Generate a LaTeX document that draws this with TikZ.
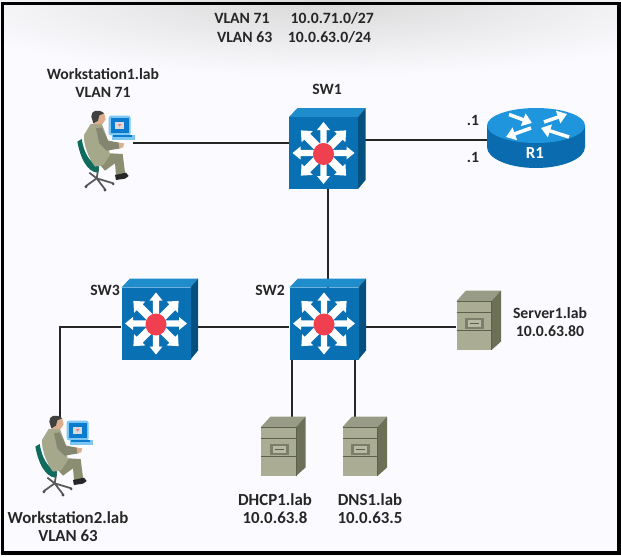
\documentclass[tikz,border=0pt]{standalone}
\usepackage{fontspec}
\setmainfont{Carlito}
\usetikzlibrary{arrows.meta, calc, backgrounds}

\definecolor{paper}{HTML}{FBFBFF}
\definecolor{swfront}{HTML}{0A70B4}
\definecolor{swtop}{HTML}{1F8CCB}
\definecolor{swside}{HTML}{05507F}
\definecolor{swred}{HTML}{F0404F}
\definecolor{rttop}{HTML}{1E95DC}
\definecolor{rtbody}{HTML}{0A6CAE}
\definecolor{srvfront}{HTML}{AAAD93}
\definecolor{srvtop}{HTML}{989B85}
\definecolor{srvside}{HTML}{6C7057}
\definecolor{srvline}{HTML}{5C5F4B}
\definecolor{jacket}{HTML}{A6A88C}
\definecolor{trousers}{HTML}{8C8E72}
\definecolor{chair}{HTML}{0F6B5C}
\definecolor{skin}{HTML}{DDAE8E}
\definecolor{screen}{HTML}{0B7BD0}
\definecolor{glow}{HTML}{7CC6F4}

\tikzset{
  netlabel/.style={font=\bfseries\fontsize{13.4}{15.4}\selectfont, align=center, text=black!85, inner sep=0pt},
  netlarge/.style={netlabel, font=\bfseries\fontsize{14.4}{15.4}\selectfont},
  netlink/.style={draw=black!85, line width=1.7pt},
  swbox/.style={inner sep=0pt, minimum width=2.07cm, minimum height=2.16cm},
  rtbox/.style={inner sep=0pt, minimum width=2.94cm, minimum height=1.26cm},
  srvbox/.style={inner sep=0pt, minimum width=1.05cm, minimum height=1.47cm},
  hostbox/.style={inner sep=0pt, minimum width=1.68cm, minimum height=1.68cm},
  %% ─── L3 switch ───────────────────────────────
  l3switch/.pic={
    \fill[swtop] (-34.5,-36) -- (-26,-45) -- (42,-45) -- (34.5,-36) -- cycle;
    \fill[swside] (34.5,-36) -- (42,-45) -- (42,27) -- (34.5,36) -- cycle;
    \fill[swfront] (-34.5,-36) rectangle (34.5,36);
    \draw[black!85, line width=1.4pt] (0,1) -- (45:24) (0,1) -- (225:24);
    \foreach \ang in {0,90,180,270}
      \fill[white, rotate=\ang] (5,-3.2) -- (23,-3.2) -- (23,-6.5) -- (31,0) -- (23,6.5) -- (23,3.2) -- (5,3.2) -- cycle;
    \foreach \ang in {45,135,225,315}
      \fill[white, rotate=\ang] (5,-4.2) -- (23,-4.2) -- (23,-8) -- (32,0) -- (23,8) -- (23,4.2) -- (5,4.2) -- cycle;
    \fill[swred] (0,1) ellipse (10.5 and 11);
  },
  %% ─── router ──────────────────────────────────
  rtdisc/.pic={
    \fill[rtbody] (-49,-20.5) -- (-49,1) arc[start angle=180, end angle=0, x radius=49, y radius=21] -- (49,-20.5) -- cycle;
    \fill[rttop] (0,-20.5) ellipse (49 and 17.5);
    \begin{scope}[white, line width=3pt, -{Triangle[length=8pt, width=11pt]}]
      \draw (-27,-31.5) -- (-4,-23);
      \draw (8,-24) -- (31,-32);
      \draw (-5,-18) -- (-30,-9);
      \draw (33,-9) -- (5,-18);
    \end{scope}
  },
  %% ─── server tower ────────────────────────────
  srvtower/.pic={
    \fill[srvtop] (-17.5,-24.5) -- (-8,-35) -- (27,-35) -- (17.5,-24.5) -- cycle;
    \fill[srvside] (17.5,-24.5) -- (27,-35) -- (27,16) -- (17.5,24.5) -- cycle;
    \fill[srvfront] (-17.5,-24.5) rectangle (17.5,24.5);
    \draw[srvline, line width=.6pt] (-17.5,-13) -- (17.5,-13) (-17.5,5) -- (17.5,5)
      (-17.5,-24.5) -- (17.5,-24.5) -- (17.5,24.5);
    \fill[srvline!60!srvfront] (-9,-8) rectangle (10,3);
    \fill[srvfront!85!white] (-6,-6) rectangle (7,1);
    \draw[srvline, line width=.5pt] (-4,-2.5) -- (5,-2.5);
  },
  %% ─── operator at a desk ──────────────────────
  deskuser/.pic={
    \begin{scope}[scale=1/3, shift={(-135,-129)}]
      % chair
      \draw[black!65, line width=1.5pt] (115,205) -- (110,235) (110,235) -- (78,258) (110,235) -- (135,268)
        (110,235) -- (88,218) (110,235) -- (160,250);
      \fill[black!70] (78,260) circle (5) (135,270) circle (5) (160,252) circle (4);
      \fill[chair] (52,125) -- (65,117) .. controls (72,160) and (90,190) .. (118,200)
        -- (112,218) .. controls (80,215) and (60,170) .. (52,125) -- cycle;
      % legs and shoe
      \fill[trousers] (120,195) -- (150,160) -- (188,162) -- (196,225) -- (168,225) -- (165,190) -- (135,212) -- cycle;
      \fill[black!85] (165,225) -- (198,218) -- (206,228) -- (195,236) -- (168,240) -- cycle;
      % jacket and arm
      \fill[jacket] (92,72) -- (125,70) -- (140,110) -- (150,165) -- (130,195) -- (105,200)
        .. controls (85,175) and (70,130) .. (72,105) -- cycle;
      \fill[jacket!80!black] (108,85) -- (125,82) -- (145,122) -- (178,128) -- (182,145) -- (140,152) -- (118,130) -- cycle;
      \fill[skin] (176,128) -- (192,130) -- (190,142) -- (178,145) -- cycle;
      % head and hair
      \fill[skin] (100,40) -- (132,38) -- (137,58) -- (128,72) -- (102,72) -- cycle;
      \fill[black!75] (94,50) .. controls (92,32) and (115,24) .. (132,40) -- (118,46) -- (114,62) -- (100,70) -- cycle;
      % monitor and keyboard
      \fill[glow, rounded corners=2pt] (146,47) rectangle (212,106);
      \fill[screen] (152,54) rectangle (206,100);
      \fill[black!15!white] (165,66) rectangle (192,86);
      \fill[swred!70!white] (174,72) -- (184,72) -- (179,80) -- cycle;
      \fill[glow] (155,106) rectangle (226,120);
      \fill[screen] (160,106) rectangle (215,112);
    \end{scope}
  },
}

\begin{document}
\begin{tikzpicture}[x=0.03cm, y=-0.03cm]

  %% ─── page and frame ──────────────────────────
  \useasboundingbox (0,0) rectangle (621,556);
  \fill[paper] (0,0) rectangle (621,556);
  \begin{scope}
    \clip (0,0) rectangle (621,556);
    \shade[inner color=black!15, outer color=paper] (325,0) ellipse (400 and 76);
  \end{scope}
  \draw[black, line width=3.4pt] (2.5,3.5) rectangle (618.5,553);

  %% ─── device placeholders ─────────────────────
  \node[swbox] (SW1) at (323.5,153) {};
  \node[swbox] (SW2) at (324,323.5) {};
  \node[swbox] (SW3) at (156,323.5) {};
  \node[rtbox] (R1) at (536,146) {};
  \node[srvbox] (Server1) at (474,325.5) {};
  \node[srvbox] (DHCP1) at (278.5,451.5) {};
  \node[srvbox] (DNS1) at (360,451.5) {};
  \node[hostbox] (WS1) at (105,143) {};
  \node[hostbox] (WS2) at (63,448) {};
  \coordinate (WS2top) at (60,420);

  %% ─── links ───────────────────────────────────
  \draw[netlink] (WS1.east) -- (WS1 -| SW1.west);
  \draw[netlink] ([yshift=0.4cm]SW1.east) -- ([yshift=0.4cm]SW1.east -| R1.west);
  \draw[netlink] ([xshift=0.135cm]SW1.south) -- ([xshift=0.135cm,yshift=-0.3cm]SW1.south |- SW2.north);
  \draw[netlink] ([yshift=-0.1cm]SW3.east) -- ([yshift=-0.1cm]SW2.west);
  \draw[netlink] ([yshift=-0.1cm]SW3.west) -| (WS2top);
  \draw[netlink] ([yshift=-0.1cm]SW2.east) -- ([yshift=-0.1cm]SW2.east -| Server1.west);
  \draw[netlink] ([xshift=0.405cm]DHCP1.north |- SW2.south) -- ([xshift=0.405cm]DHCP1.north);
  \draw[netlink] ([xshift=-0.15cm]DNS1.north |- SW2.south) -- ([xshift=-0.15cm]DNS1.north);

  %% ─── device icons ────────────────────────────
  \pic at (SW1) {l3switch};
  \pic at (SW2) {l3switch};
  \pic at (SW3) {l3switch};
  \pic at (R1) {rtdisc};
  \pic at (Server1) {srvtower};
  \pic at (DHCP1) {srvtower};
  \pic at (DNS1) {srvtower};
  \pic at (WS1) {deskuser};
  \pic at (WS2) {deskuser};

  %% ─── labels ──────────────────────────────────
  \node[netlabel] (VlanA) at (294,18) {VLAN 71\hspace{1.35em}10.0.71.0/27};
  \node[netlabel] (VlanB) at (294,37) {VLAN 63\hspace{1em}10.0.63.0/24};
  \node[netlabel] (WS1name) at (103,83) {Workstation1.lab\\VLAN 71};
  \node[netlarge] (WS2name) at (68,527) {Workstation2.lab\\VLAN 63};
  \node[netlabel] (SW1name) at (327,89) {SW1};
  \node[netlabel] (SW2name) at (270,290) {SW2};
  \node[netlabel] (SW3name) at (105,290) {SW3};
  \node[netlabel] (R1up) at (473,120) {.1};
  \node[netlabel] (R1down) at (473,157) {.1};
  \node[netlarge, text=white] (R1name) at (535,153) {R1};
  \node[netlabel] (Server1name) at (550,322) {Server1.lab\\10.0.63.80};
  \node[netlarge] (DHCP1name) at (275,509) {DHCP1.lab\\10.0.63.8};
  \node[netlarge] (DNS1name) at (370,509) {DNS1.lab\\10.0.63.5};

\end{tikzpicture}
\end{document}
